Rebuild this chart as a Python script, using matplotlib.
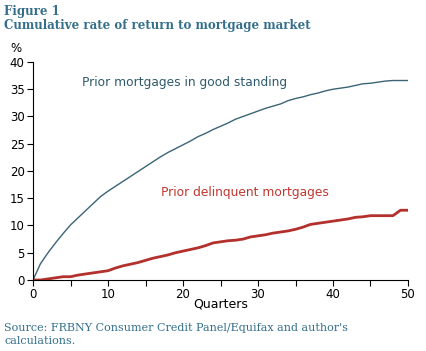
import matplotlib
matplotlib.use("Agg")
import matplotlib.pyplot as plt

quarters = list(range(51))
good_standing = [0, 3.0, 5.0, 6.8, 8.5, 10.1, 11.4, 12.7, 14.0, 15.3,
                 16.3, 17.2, 18.1, 19.0, 19.9, 20.8, 21.7, 22.6, 23.4, 24.1,
                 24.8, 25.5, 26.3, 26.9, 27.6, 28.2, 28.8, 29.5, 30.0, 30.5,
                 31.0, 31.5, 31.9, 32.3, 32.9, 33.3, 33.6, 34.0, 34.3, 34.7,
                 35.0, 35.2, 35.4, 35.7, 36.0, 36.1, 36.3, 36.5, 36.6, 36.6,
                 36.6]
delinquent = [0, 0.0, 0.2, 0.4, 0.6, 0.6, 0.9, 1.1, 1.3, 1.5,
              1.7, 2.2, 2.6, 2.9, 3.2, 3.6, 4.0, 4.3, 4.6, 5.0,
              5.3, 5.6, 5.9, 6.3, 6.8, 7.0, 7.2, 7.3, 7.5, 7.9,
              8.1, 8.3, 8.6, 8.8, 9.0, 9.3, 9.7, 10.2, 10.4, 10.6,
              10.8, 11.0, 11.2, 11.5, 11.6, 11.8, 11.8, 11.8, 11.8, 12.8,
              12.8]

title_color = '#336f8c'
blue = '#3b6476'
red = '#b3302c'

fig = plt.figure(figsize=(4.27, 3.51), dpi=100)
ax = fig.add_axes([0.0773, 0.2023, 0.8782, 0.6211])

ax.plot(quarters, good_standing, color=blue, lw=1.0)
ax.plot(quarters, delinquent, color=red, lw=2.0)

ax.text(6.5, 36.3, 'Prior mortgages in good standing', color='#2f5a6c',
        fontsize=8.8, va='center', ha='left')
ax.text(17.1, 16.0, 'Prior delinquent mortgages', color='#c0372f',
        fontsize=8.8, va='center', ha='left')

ax.set_xlim(0, 50)
ax.set_ylim(0, 40)
ax.set_xticks(range(0, 51, 5))
ax.set_xticklabels(['0', '', '10', '', '20', '', '30', '', '40', '', '50'])
ax.set_yticks(range(0, 41, 5))
ax.tick_params(labelsize=8.5, length=4, width=0.8, direction='out', pad=2)
for s in ['top', 'right']:
    ax.spines[s].set_visible(False)
ax.set_xlabel('Quarters', fontsize=9, labelpad=-3)
ax.text(-2.3, 41.3, '%', fontsize=8.5, ha='center', va='bottom')

fig.text(0.01, 0.967, 'Figure 1', fontsize=8.5, fontweight='bold',
         family='DejaVu Serif', color=title_color, va='center')
fig.text(0.01, 0.927, 'Cumulative rate of return to mortgage market', fontsize=8.5,
         fontweight='bold', family='DejaVu Serif', color=title_color, va='center')
fig.text(0.01, 0.047, "Source: FRBNY Consumer Credit Panel/Equifax and author's\ncalculations.",
         fontsize=8, family='DejaVu Serif', color=title_color, va='center',
         linespacing=1.35)

fig.savefig('out.png', dpi=100)
